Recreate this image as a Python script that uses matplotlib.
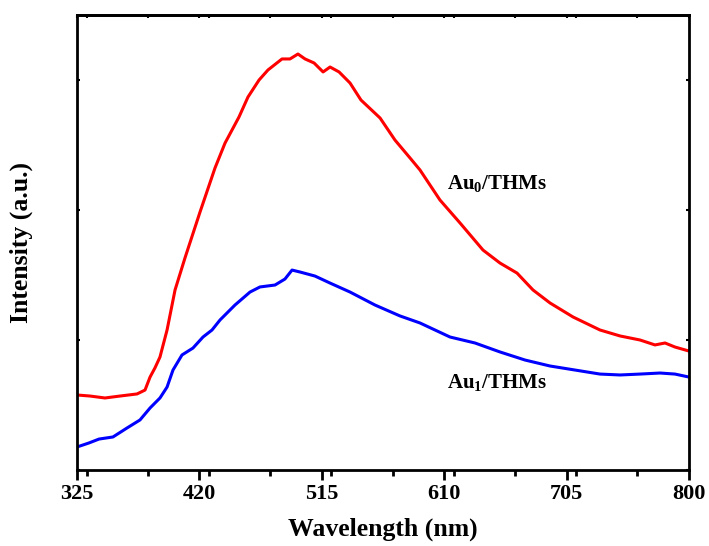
import matplotlib
matplotlib.use("Agg")
import matplotlib.pyplot as plt
from matplotlib.ticker import MultipleLocator

plt.rcParams["font.family"] = "Liberation Serif"
plt.rcParams["font.weight"] = "bold"
plt.rcParams["mathtext.fontset"] = "custom"
plt.rcParams["mathtext.rm"] = "Liberation Serif:bold"
plt.rcParams["mathtext.bf"] = "Liberation Serif:bold"

# Au0/THMs spectrum (red)
wl_au0 = [325, 335.1, 346.7, 358.4, 371.6, 377.8, 381.7, 385.5, 389.4, 394.9,
          401.1, 408.8, 420.5, 432.1, 439.9, 450.7, 457.7, 466.3, 473.2, 484.1,
          490.3, 496.5, 502.0, 509.0, 516.0, 521.4, 528.4, 536.9, 545.4, 560.2,
          571.8, 583.5, 591.2, 606.7, 622.3, 640.1, 653.3, 666.5, 678.9, 692.1,
          710.0, 730.9, 746.5, 762.0, 773.6, 781.4, 789.1, 800]
int_au0 = [0.577, 0.569, 0.554, 0.569, 0.585, 0.615, 0.715, 0.785, 0.869, 1.077,
           1.385, 1.631, 1.985, 2.323, 2.515, 2.715, 2.869, 3.000, 3.077, 3.162,
           3.162, 3.200, 3.162, 3.131, 3.062, 3.100, 3.062, 2.977, 2.846, 2.708,
           2.538, 2.400, 2.308, 2.077, 1.900, 1.692, 1.592, 1.515, 1.385, 1.285,
           1.177, 1.077, 1.031, 1.000, 0.962, 0.977, 0.946, 0.915]

# Au1/THMs spectrum (blue)
wl_au1 = [325, 334.3, 342.1, 352.9, 363.8, 373.9, 381.7, 389.4, 394.9, 399.5,
          406.5, 415.0, 422.8, 429.8, 436.0, 447.6, 459.3, 467.0, 478.7, 486.4,
          491.9, 498.1, 509.7, 521.4, 536.9, 556.3, 575.7, 591.2, 614.5, 633.9,
          653.3, 672.7, 692.1, 711.5, 730.9, 746.5, 762.0, 777.5, 789.1, 800]
int_au1 = [0.177, 0.208, 0.238, 0.254, 0.323, 0.385, 0.477, 0.554, 0.638, 0.769,
           0.885, 0.938, 1.023, 1.077, 1.154, 1.269, 1.369, 1.408, 1.423, 1.469,
           1.538, 1.523, 1.492, 1.438, 1.369, 1.269, 1.185, 1.131, 1.023, 0.977,
           0.908, 0.846, 0.800, 0.769, 0.738, 0.731, 0.738, 0.746, 0.738, 0.715]

x_ticks = [325, 420, 515, 610, 705, 800]

fig = plt.figure(figsize=(7.09, 5.46), dpi=100)
ax = fig.add_axes([0.1086, 0.1392, 0.8632, 0.8333])

ax.plot(wl_au0, int_au0, color="#ff0000", lw=2.2)
ax.plot(wl_au1, int_au1, color="#0000ff", lw=2.2)

ax.text(612, 2.2, r"Au$_{\mathbf{0}}$/THMs", fontsize=15, fontweight="bold",
        va="center", ha="left")
ax.text(612, 0.669, r"Au$_{\mathbf{1}}$/THMs", fontsize=15, fontweight="bold",
        va="center", ha="left")

ax.set_xlim(325, 800)
ax.set_ylim(0, 3.5)
ax.set_xticks(x_ticks)
ax.xaxis.set_minor_locator(MultipleLocator(47.5))
ax.set_yticks([0, 1, 2, 3])
ax.set_yticklabels([])

ax.tick_params(axis="x", which="major", direction="out", length=7, width=2,
               labelsize=16, pad=3)
ax.tick_params(axis="x", which="minor", direction="out", length=4, width=2)
ax.tick_params(axis="y", which="major", direction="in", length=2, width=1.5,
               right=True)
for lab in ax.get_xticklabels():
    lab.set_fontweight("bold")

# tiny inward ticks on the top spine
top = ax.secondary_xaxis("top")
top.set_xticks(x_ticks)
top.xaxis.set_minor_locator(MultipleLocator(47.5))
top.tick_params(which="both", direction="in", length=2, width=1.5,
                labeltop=False)
top.spines["top"].set_linewidth(2)

for sp in ax.spines.values():
    sp.set_linewidth(2)

ax.set_xlabel("Wavelength (nm)", fontsize=18.5, fontweight="bold", labelpad=10)
ax.set_ylabel("Intensity (a.u.)", fontsize=18.5, fontweight="bold", labelpad=28)

fig.savefig("out.png", dpi=100)
